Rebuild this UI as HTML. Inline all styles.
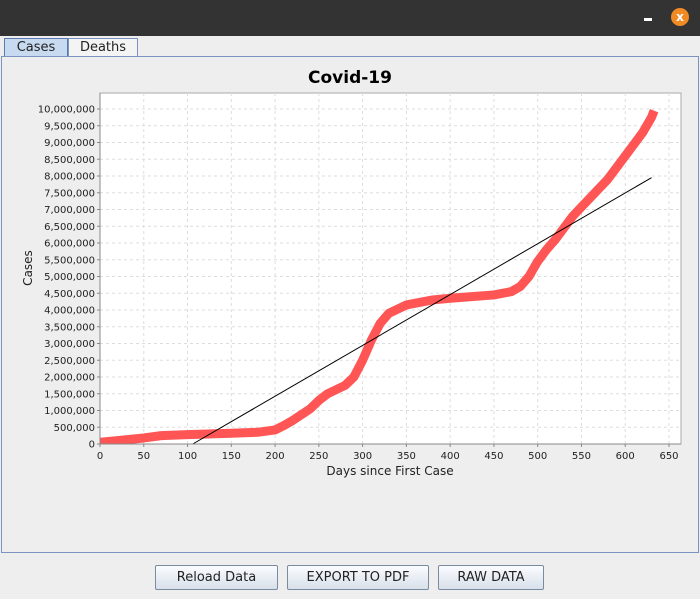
<!DOCTYPE html>
<html><head><meta charset="utf-8"><style>
body{margin:0;width:700px;height:599px;background:#eeeeee;font-family:"DejaVu Sans","Liberation Sans",sans-serif;position:relative;overflow:hidden}
.tb{position:absolute;left:0;top:0;width:700px;height:36px;background:#333}
.tab{position:absolute;top:38px;height:17px;border:1px solid #7a93c0;border-bottom:none;font-size:13px;line-height:17px;text-align:center;color:#222}
.panel{position:absolute;left:1px;top:56px;width:696px;height:495px;border:1px solid #7a93c0}
.btn{position:absolute;top:565px;height:23px;border:1px solid #7a8aa0;border-radius:2px;background:linear-gradient(#fafcff,#d8e0ea);font-size:13px;line-height:23px;text-align:center;color:#222}
</style></head><body>
<div class="tb"></div>
<div style="position:absolute;left:644px;top:18px;width:8px;height:3px;background:#fff"></div>
<div style="position:absolute;left:671px;top:8px;width:18px;height:18px;border-radius:50%;background:#f08a24;color:#fff;font-size:12px;line-height:18px;text-align:center;font-weight:bold">x</div>
<div class="tab" style="left:4px;width:62px;background:#c8daf0;border:1px solid #5a7ab0">Cases</div>
<div class="tab" style="left:68px;width:68px;background:#f4f4f4">Deaths</div>
<div class="panel"></div>
<svg id="ch" width="700" height="599" style="position:absolute;left:0;top:0"></svg>
<div class="btn" style="left:155px;width:121px">Reload Data</div>
<div class="btn" style="left:287px;width:140px">EXPORT TO PDF</div>
<div class="btn" style="left:438px;width:104px">RAW DATA</div>
<script>
const days=[0,20,50,70,100,150,180,200,210,220,240,250,260,280,290,300,310,320,330,350,380,400,450,470,480,490,500,510,520,530,540,560,580,600,620,630,633];
const cases=[0.05,0.1,0.18,0.25,0.28,0.32,0.35,0.42,0.55,0.7,1.05,1.3,1.5,1.75,2.0,2.5,3.1,3.6,3.9,4.15,4.3,4.35,4.45,4.55,4.7,5.0,5.45,5.8,6.1,6.45,6.8,7.35,7.9,8.6,9.3,9.75,9.95];
const trendDays=[106,630];
const trendVals=[0,7.95];
const xTicks=[0,50,100,150,200,250,300,350,400,450,500,550,600,650];
const yTicks=[0,0.5,1,1.5,2,2.5,3,3.5,4,4.5,5,5.5,6,6.5,7,7.5,8,8.5,9,9.5,10];
const NS="http://www.w3.org/2000/svg",svg=document.getElementById('ch');
const L=100,R=681,T=93,B=444;
const X=d=>L+d*(569/650), Y=v=>B-v*33.5;
function mk(t,a,p){const e=document.createElementNS(NS,t);for(const k in a)e.setAttribute(k,a[k]);(p||svg).appendChild(e);return e;}
const bg=mk('rect',{x:L,y:T,width:R-L,height:B-T,fill:'#fff',stroke:'#aaa'});


const t=mk('text',{x:350,y:83,'text-anchor':'middle','font-size':17,'font-weight':'bold',fill:'#000'});t.textContent='Covid-19';


xTicks.forEach(d=>{const x=X(d);
 if(d>0)mk('line',{x1:x,y1:T,x2:x,y2:B,stroke:'#ddd','stroke-dasharray':'3,3'});
 mk('line',{x1:x,y1:B,x2:x,y2:B+3,stroke:'#888'});
 const e=mk('text',{x:x,y:B+15,'text-anchor':'middle','font-size':10,fill:'#222'});e.textContent=d;
 
 });
yTicks.forEach(v=>{const y=Y(v);
 if(v>0)mk('line',{x1:L,y1:y,x2:R,y2:y,stroke:'#ddd','stroke-dasharray':'3,3'});
 mk('line',{x1:L-3,y1:y,x2:L,y2:y,stroke:'#888'});
 const e=mk('text',{x:L-5,y:y+3.5,'text-anchor':'end','font-size':10,fill:'#222'});e.textContent=Math.round(v*1e6).toLocaleString('en-US');
 
 });
const xt=mk('text',{x:390,y:475,'text-anchor':'middle','font-size':12,fill:'#222'});xt.textContent='Days since First Case';


const yt=mk('text',{x:32,y:268,'text-anchor':'middle','font-size':12,fill:'#222',transform:'rotate(-90 32 268)'});yt.textContent='Cases';


const g=mk('g',{'clip-path':'url(#cp)'});
const cp=mk('clipPath',{id:'cp'});mk('rect',{x:L,y:T,width:R-L,height:B-T},cp);
const pl=mk('polyline',{points:days.map((d,i)=>X(d)+','+Y(cases[i])).join(' '),fill:'none',stroke:'#ff5555','stroke-width':9,'stroke-linejoin':'round'},g);


const tl=mk('line',{x1:X(trendDays[0]),y1:Y(trendVals[0]),x2:X(trendDays[1]),y2:Y(trendVals[1]),stroke:'#000','stroke-width':1});


mk('line',{x1:L,y1:B,x2:R,y2:B,stroke:'#888'});mk('line',{x1:L,y1:T,x2:L,y2:B,stroke:'#888'});
</script>
</body></html>
